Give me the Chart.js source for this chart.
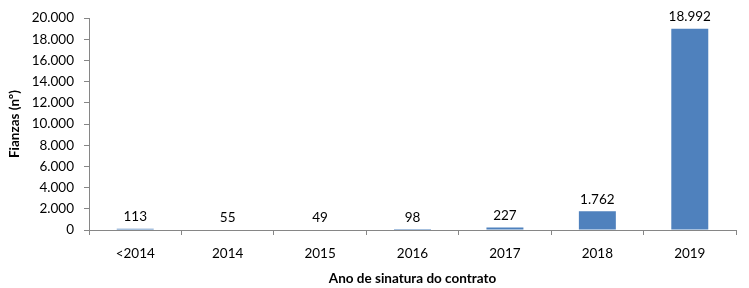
<!DOCTYPE html>
<html>
<head>
<meta charset="utf-8">
<script src="https://cdn.jsdelivr.net/npm/chart.js@4.4.0/dist/chart.umd.min.js"></script>
<style>
  html, body { margin: 0; padding: 0; background: #fff; }
</style>
</head>
<body>
<canvas id="fianzas" width="749" height="288"></canvas>
<script>
// categories and values
const years = ["<2014", "2014", "2015", "2016", "2017", "2018", "2019"];
const fianzas = [113, 55, 49, 98, 227, 1762, 18992];
const yTicks = [0, 2000, 4000, 6000, 8000, 10000, 12000, 14000, 16000, 18000, 20000];

const fmt = (v) => v.toString().replace(/\B(?=(\d{3})+(?!\d))/g, ".");
const FONT = "Lato, Calibri, 'Open Sans', sans-serif";
const axisGrey = "#868686";

// labels over the bars
const barLabels = {
  id: "barLabels",
  afterDatasetsDraw(chart) {
    const ctx = chart.ctx;
    const meta = chart.getDatasetMeta(0);
    ctx.save();
    ctx.font = "13.5px " + FONT;
    ctx.fillStyle = "#000";
    ctx.textAlign = "center";
    ctx.textBaseline = "bottom";
    meta.data.forEach((bar, i) => {
      ctx.fillText(fmt(fianzas[i]), bar.x, bar.y - 5);
    });
    ctx.restore();
  },
};

const ctx = document.getElementById("fianzas").getContext("2d");
const fianzasChart = new Chart(ctx, {
  type: "bar",
  data: {
    labels: years,
    datasets: [
      {
        data: fianzas,
        backgroundColor: "#4F81BD",
        barPercentage: 0.8,
        categoryPercentage: 0.5,
      },
    ],
  },
  options: {
    responsive: false,
    animation: false,
    devicePixelRatio: 1,
    layout: { padding: { top: 13, right: 13, left: 3, bottom: 0 } },
    plugins: { legend: { display: false }, tooltip: { enabled: false } },
    scales: {
      x: {
        grid: {
          display: true,
          drawOnChartArea: false,
          drawTicks: true,
          tickLength: 5,
          color: axisGrey,
          offset: true,
        },
        border: { color: axisGrey },
        ticks: {
          color: "#000",
          font: { family: FONT, size: 13.5 },
          padding: 11,
          autoSkip: false,
          maxRotation: 0,
          minRotation: 0,
        },
        title: {
          display: true,
          text: "Ano de sinatura do contrato",
          color: "#000",
          font: { family: FONT, size: 13.5, weight: "bold" },
          padding: { top: 6, bottom: 1 },
        },
        afterFit(scale) {
          scale.height = 58;
        },
      },
      y: {
        min: 0,
        max: 20000,
        afterBuildTicks(scale) {
          scale.ticks = yTicks.map((v) => ({ value: v }));
        },
        grid: {
          display: true,
          drawOnChartArea: false,
          drawTicks: true,
          tickLength: 5,
          color: axisGrey,
        },
        border: { color: axisGrey },
        ticks: {
          color: "#000",
          font: { family: FONT, size: 13.5 },
          padding: 10,
          autoSkip: false,
          callback: (v) => fmt(v),
        },
        title: {
          display: true,
          text: "Fianzas (nº)",
          color: "#000",
          font: { family: FONT, size: 13.5, weight: "bold" },
          padding: { bottom: 4 },
        },
        afterFit(scale) {
          scale.width = 86;
        },
      },
    },
  },
  plugins: [barLabels],
});
</script>
</body>
</html>
